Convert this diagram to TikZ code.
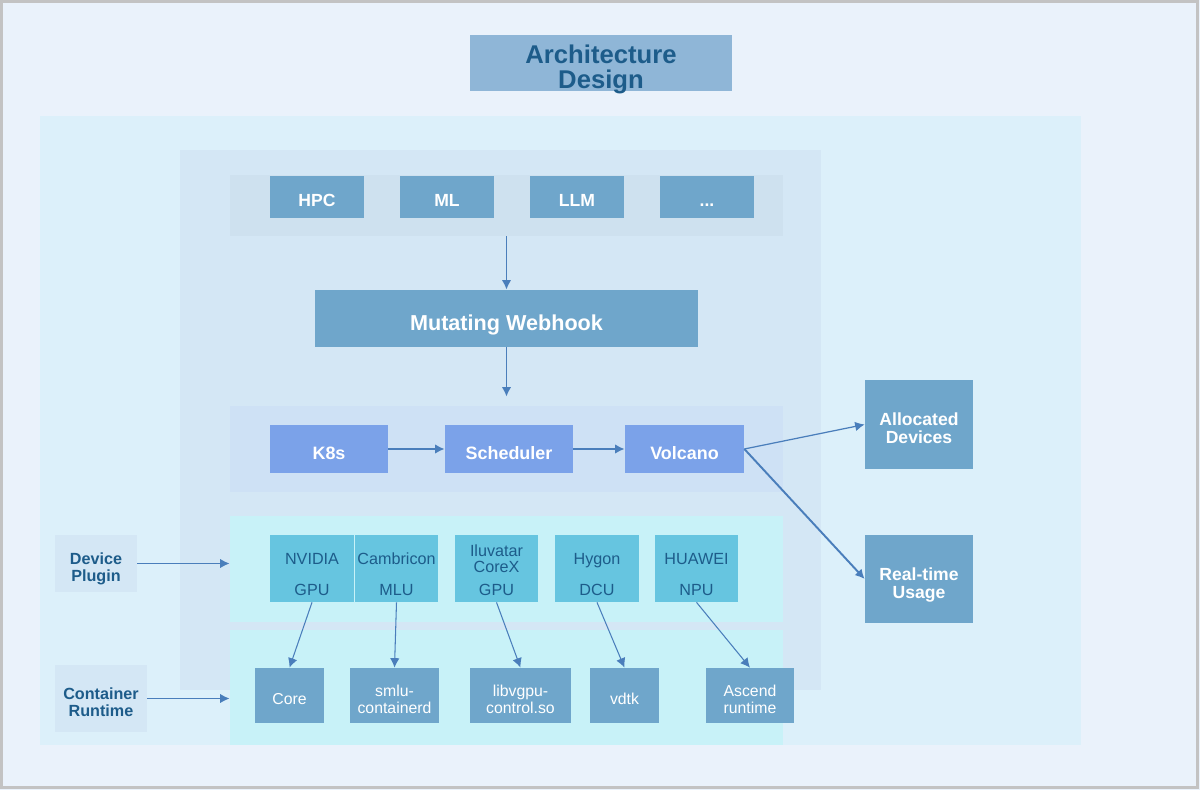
\documentclass[tikz,border=0pt]{standalone}
\usepackage{fontspec}
\setmainfont{Liberation Sans}
\usetikzlibrary{arrows.meta}
\definecolor{bgblue}{HTML}{EAF2FB}
\definecolor{framegray}{HTML}{C3C3C3}
\definecolor{titleblue}{HTML}{8FB6D7}
\definecolor{darkblue}{HTML}{1D5C8A}
\definecolor{outerpanel}{HTML}{DCF0FA}
\definecolor{innerpanel}{HTML}{D4E7F5}
\definecolor{stripblue}{HTML}{CEE1EF}
\definecolor{schedstrip}{HTML}{CEE1F5}
\definecolor{appblue}{HTML}{6FA6CB}
\definecolor{kblue}{HTML}{7BA2E9}
\definecolor{devstrip}{HTML}{C8F2F8}
\definecolor{devcyan}{HTML}{66C5E0}
\definecolor{arrowblue}{HTML}{4A7EBB}

\begin{document}
\begin{tikzpicture}[x=0.02cm,y=-0.02cm,
  box/.style={rectangle, inner sep=0pt},
  txt/.style={inner sep=0pt, align=center, text depth=0pt, yshift=-0.075cm},
  devtxt/.style={inner sep=0pt, align=center, text depth=0pt, text=darkblue,
    font=\fontsize{9.2}{9}\selectfont},
  strip/.style={box, minimum width=11.06cm},
  appbox/.style={box, fill=appblue,
    label={[txt, text=white, font=\bfseries\fontsize{10}{10.2}\selectfont]center:{#1}}},
  kbox/.style={box, fill=kblue, minimum height=0.96cm,
    label={[txt, text=white, font=\bfseries\fontsize{10.2}{11}\selectfont]center:{#1}}},
  devbox/.style 2 args={box, fill=devcyan, minimum width=1.67cm, minimum height=1.34cm,
    label={[devtxt, yshift=0.2cm]center:{#1}},
    label={[devtxt, yshift=-0.43cm]center:{#2}}},
  rtbox/.style={box, fill=appblue, minimum height=1.1cm,
    label={[txt, text=white, font=\fontsize{9}{9.3}\selectfont]center:{#1}}},
  sidebox/.style={box, fill=innerpanel,
    label={[txt, text=darkblue, font=\bfseries\fontsize{9.2}{9.4}\selectfont]center:{#1}}},
  link/.style={draw=arrowblue, line width=1.1pt, -{Latex[length=0.19cm, width=0.19cm]}},
  thinlink/.style={draw=arrowblue, line width=0.6pt, -{Latex[length=0.19cm, width=0.19cm]}},
]
\useasboundingbox (0,0) rectangle (1200,790);

% background panels
\fill[bgblue] (0,0) rectangle (1200,790);
\draw[framegray, line width=1.7pt] (1.5,1.5) rectangle (1197.5,787.5);
\fill[outerpanel] (40,116) rectangle (1081,745);
\fill[innerpanel] (180,150) rectangle (821,690);

\node[box, fill=titleblue, minimum width=5.24cm, minimum height=1.12cm,
  label={[txt, text=darkblue, font=\bfseries\fontsize{14.6}{13.9}\selectfont]center:{Architecture\\Design}}]
  (title) at (601,63) {};

% workloads
\node[strip, fill=stripblue, minimum height=1.22cm] (apps) at (506.5,205.5) {};
\foreach \n/\t [count=\i] in {hpc/HPC, ml/ML, llm/LLM}{
  \node[appbox=\t, minimum width=1.88cm, minimum height=0.84cm] (\n) at ({317+130*(\i-1)},197) {};
}
\node[appbox={\vphantom{H}...}, minimum width=1.88cm, minimum height=0.84cm] (more) at (707,197) {};

\node[box, fill=appblue, minimum width=7.66cm, minimum height=1.14cm,
  label={[txt, text=white, font=\bfseries\fontsize{12.3}{13}\selectfont]center:Mutating Webhook}]
  (webhook) at (506.5,318.5) {};

% scheduling
\node[strip, fill=schedstrip, minimum height=1.72cm] (sched) at (506.5,449) {};
\node[kbox=K8s, minimum width=2.36cm] (k8s) at (329,449) {};
\node[kbox=Scheduler, minimum width=2.56cm] (scheduler) at (509,449) {};
\node[kbox=Volcano, minimum width=2.38cm] (volcano) at (684.5,449) {};

\node[appbox={Allocated\\Devices}, minimum width=2.16cm, minimum height=1.78cm] (alloc) at (919,424.5) {};
\node[appbox={Real-time\\Usage}, minimum width=2.16cm, minimum height=1.76cm] (usage) at (919,579) {};

% devices
\node[strip, fill=devstrip, minimum height=2.12cm] (devices) at (506.5,569) {};
\node[devbox={NVIDIA}{GPU}] (nvidia) at (312,568.5) {};
\node[devbox={Cambricon}{MLU}] (cambricon) at (396.5,568.5) {};
\node[devbox={Iluvatar\\CoreX}{GPU}] (iluvatar) at (496.5,568.5) {};
\node[devbox={Hygon}{DCU}] (hygon) at (597,568.5) {};
\node[devbox={HUAWEI}{NPU}] (huawei) at (696.5,568.5) {};

% runtimes
\node[strip, fill=devstrip, minimum height=2.3cm] (runtime) at (506.5,687.5) {};
\node[rtbox=Core, minimum width=1.38cm] (core) at (289.5,695.5) {};
\node[rtbox={smlu-\\containerd}, minimum width=1.78cm] (smlu) at (394.5,695.5) {};
\node[rtbox={libvgpu-\\control.so}, minimum width=2.02cm] (libvgpu) at (520.5,695.5) {};
\node[rtbox=vdtk, minimum width=1.38cm] (vdtk) at (624.5,695.5) {};
\node[rtbox={Ascend\\runtime}, minimum width=1.76cm] (ascend) at (750,695.5) {};

\node[sidebox={Device\\Plugin}, minimum width=1.64cm, minimum height=1.14cm] (plugin) at (96,563.5) {};
\node[sidebox={Container\\Runtime}, minimum width=1.84cm, minimum height=1.34cm] (crt) at (101,698.5) {};

% connectors
\draw[link] (apps.south) -- (webhook.north);
\draw[link, shorten >=0.18cm] (webhook.south) -- (sched.north);
\draw[link] (k8s) -- (scheduler);
\draw[link] (scheduler) -- (volcano);
\draw[link, line width=0.7pt] (volcano.east) -- (alloc.west);
\draw[link] (volcano.east) -- (usage.west);
\draw[link] (plugin.east) -- (plugin.east -| devices.west);
\draw[link] (crt.east) -- (crt.east -| runtime.west);
\foreach \a/\b in {nvidia/core, cambricon/smlu, iluvatar/libvgpu, hygon/vdtk, huawei/ascend}{
  \draw[thinlink] (\a.south) -- (\b.north);
}

\end{tikzpicture}
\end{document}
